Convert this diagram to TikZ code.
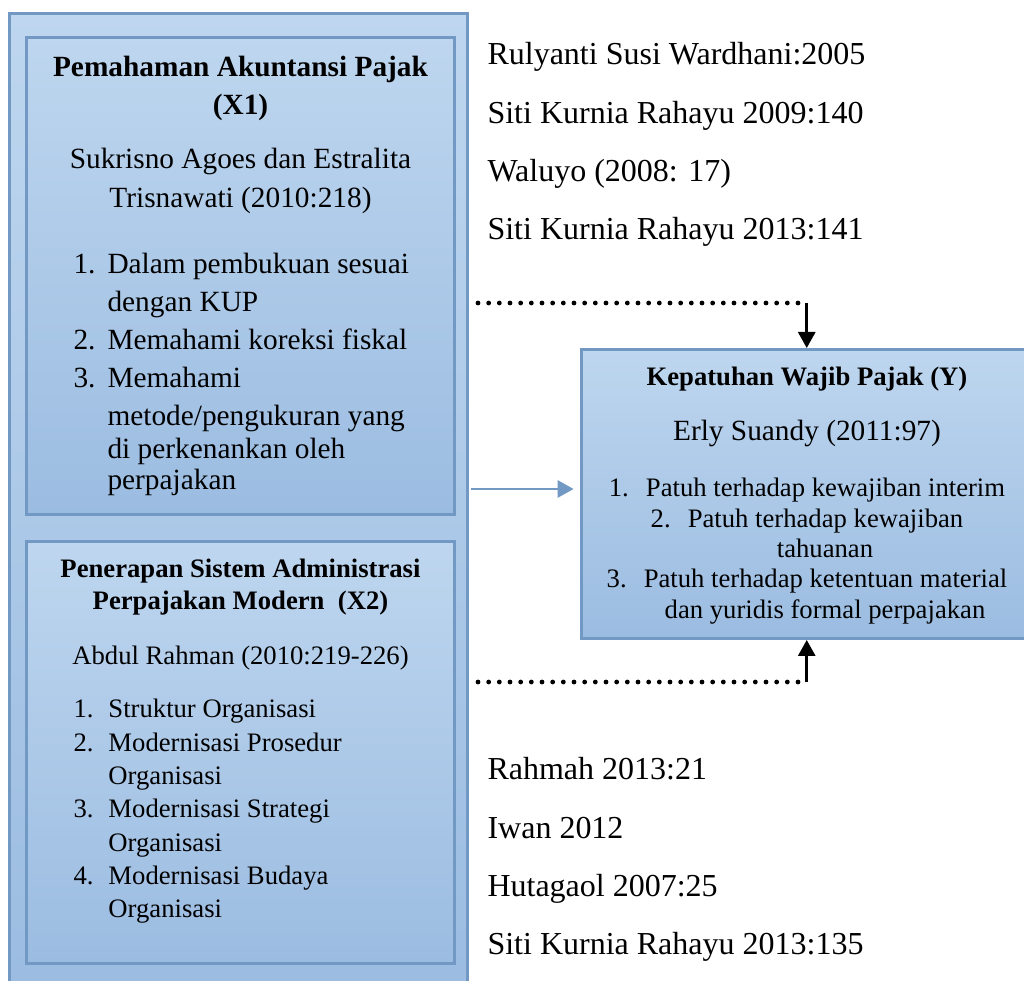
\documentclass[tikz,border=0pt]{standalone}
\usepackage{fontspec}
\setmainfont{Liberation Serif}
\usetikzlibrary{arrows.meta, fit}

\definecolor{boxline}{RGB}{114,152,196}
\definecolor{boxtop}{RGB}{190,214,239}
\definecolor{boxbot}{RGB}{155,188,225}

\newcommand{\ctab}[1]{\begin{tabular}[t]{@{}c@{}}#1\end{tabular}}

\begin{document}
\begin{tikzpicture}[
  x=0.375pt, y=-0.375pt,
  >=Stealth,
  varbox/.style={draw=boxline, line width=1.125pt, top color=boxtop, bottom color=boxbot, rectangle, inner sep=0pt},
  intext/.style={inner sep=0pt, anchor=base},
  reftext/.style={inner sep=0pt, anchor=base west, font=\fontsize{12}{21.8}\selectfont},
  dotline/.style={line width=1.8pt, line cap=round, dash pattern=on 0pt off 4pt},
  blackarrow/.style={-{Triangle[length=6pt, width=6.4pt]}, line width=1pt},
  bluearrow/.style={-{Triangle[length=6pt, width=6.4pt]}, line width=1.1pt, boxline},
]
\useasboundingbox (0,0) rectangle (1024,981);

% Outer frame holding both independent variables
\node[varbox, fit={(9.5,13.5) (467.5,1000)}] (xall) {};

% --- X1 box ---
\node[varbox, fit={(26.5,37.5) (454.5,515)}] (xone) {};
\node[intext, font=\bfseries\fontsize{11}{13.9}\selectfont] (xonetitle) at (240.5,77)
  {\ctab{Pemahaman Akuntansi Pajak\\(X1)}};
\node[intext, font=\fontsize{11}{14.6}\selectfont] (xonesrc) at (240.5,169)
  {\ctab{Sukrisno Agoes dan Estralita\\Trisnawati (2010:218)}};
\node[intext, anchor=base west, font=\fontsize{11}{14.25}\selectfont] (xonelist) at (73,274)
  {\begin{tabular}[t]{@{}l@{\hspace{4.5pt}}l@{}}
   1. & Dalam pembukuan sesuai\\
      & dengan KUP\\
   2. & Memahami koreksi fiskal\\
   3. & Memahami\\
      & metode/pengukuran yang\\[-2.2pt]
      & di perkenankan oleh\\[-2.6pt]
      & perpajakan
   \end{tabular}};

% --- X2 box ---
\node[varbox, fit={(26.5,541.5) (454.5,964)}] (xtwo) {};
\node[intext, font=\bfseries\fontsize{10}{12}\selectfont] (xtwotitle) at (240.5,578)
  {\ctab{Penerapan Sistem Administrasi\\Perpajakan Modern\ \ (X2)}};
\node[intext, font=\fontsize{10}{12}\selectfont] (xtwosrc) at (240.5,665)
  {Abdul Rahman (2010:219-226)};
\node[intext, anchor=base west, font=\fontsize{10}{12.5}\selectfont] (xtwolist) at (73,718)
  {\begin{tabular}[t]{@{}l@{\hspace{5.6pt}}l@{}}
   1. & Struktur Organisasi\\
   2. & Modernisasi Prosedur\\
      & Organisasi\\
   3. & Modernisasi Strategi\\
      & Organisasi\\
   4. & Modernisasi Budaya\\
      & Organisasi
   \end{tabular}};

% --- Y box ---
\node[varbox, fit={(581.5,349.5) (1032,638.5)}] (ybox) {};
\node[intext, font=\bfseries\fontsize{10}{12}\selectfont] (ytitle) at (807,386)
  {Kepatuhan Wajib Pajak (Y)};
\node[intext, font=\fontsize{11}{13}\selectfont] (ysrc) at (807,441)
  {Erly Suandy (2011:97)};
\node[intext, font=\fontsize{10}{11.35}\selectfont] (ylist) at (807,497)
  {\ctab{1.\hspace{6.4pt}Patuh terhadap kewajiban interim\\
   2.\hspace{6.4pt}Patuh terhadap kewajiban\\
   \hspace*{13.5pt}tahuanan\\
   3.\hspace{6.4pt}Patuh terhadap ketentuan material\\
   \hspace*{13.5pt}dan yuridis formal perpajakan}};

% References, above and below
\node[reftext] (refup) at (487,65)
  {\begin{tabular}[t]{@{}l@{}}
   Rulyanti Susi Wardhani:2005\\
   Siti Kurnia Rahayu 2009:140\\
   Waluyo (2008: 17)\\
   Siti Kurnia Rahayu 2013:141
   \end{tabular}};
\node[reftext] (refdown) at (487,780)
  {\begin{tabular}[t]{@{}l@{}}
   Rahmah 2013:21\\
   Iwan 2012\\
   Hutagaol 2007:25\\
   Siti Kurnia Rahayu 2013:135
   \end{tabular}};

% Connectors
\coordinate (dotup) at (478,303);
\coordinate (dotdown) at (478,682);
\coordinate (xout) at (471,489);
\draw[dotline] (dotup) -- (dotup -| ybox.north) coordinate (turnup);
\draw[blackarrow] (turnup) -- (ybox.north);
\draw[dotline] (dotdown) -- (dotdown -| ybox.south) coordinate (turndown);
\draw[blackarrow] (turndown) -- (ybox.south);
\draw[bluearrow, shorten >=2.4pt] (xout) -- (xout -| ybox.west);
\end{tikzpicture}
\end{document}
